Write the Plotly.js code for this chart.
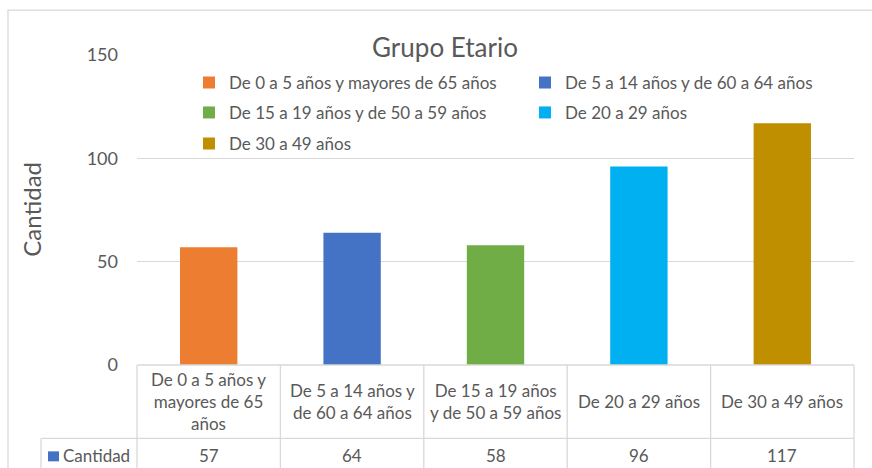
<!DOCTYPE html>
<html>
<head>
<meta charset="utf-8">
<script src="https://cdn.plot.ly/plotly-3.0.1.min.js"></script>
<style>html,body{margin:0;padding:0;background:#fff;}#chart{width:872px;height:468px;}</style>
</head>
<body>
<div id="chart"></div>
<script>
// ---- data ----
var categories = [
  "De 0 a 5 años y mayores de 65 años",
  "De 5 a 14 años y de 60 a 64 años",
  "De 15 a 19 años y de 50 a 59 años",
  "De 20 a 29 años",
  "De 30 a 49 años"
];
var tableLabels = [
  "De 0 a 5 años y<br>mayores de 65<br>años",
  "De 5 a 14 años y<br>de 60 a 64 años",
  "De 15 a 19 años<br>y de 50 a 59 años",
  "De 20 a 29 años",
  "De 30 a 49 años"
];
var values = [57, 64, 58, 96, 117];
var colors = ["#ED7D31", "#4472C4", "#70AD47", "#00B0F0", "#BF8F00"];
var seriesName = "Cantidad";
var yTicks = [0, 50, 100, 150];

// ---- layout helpers ----
var W = 872, H = 468;
var M = {l: 137, r: 18, t: 55, b: 102.5, autoexpand: false};
var PW = W - M.l - M.r, PH = H - M.t - M.b;
function px2x(px) { return (px - M.l) / PW; }
function py2y(py) { return (H - M.b - py) / PH; }
var textColor = "#595959", lineColor = "#D9D9D9";
var FONT = "Lato, 'Open Sans', sans-serif";

var legendIds = ["legend", "legend", "legend2", "legend2", "legend3"];
var traces = categories.map(function (c, i) {
  return {
    type: "bar",
    x: [i],
    y: [values[i]],
    name: c,
    width: 0.4,
    marker: {color: colors[i]},
    legend: legendIds[i],
    hoverinfo: "skip"
  };
});

var n = categories.length;
function catEdge(k) { return k / n; } // paper x of boundary k (range -0.5..n-0.5)

var shapes = [];
var rowLineY = py2y(439), bottomY = py2y(480);
var labelColX = px2x(41);
// outer chart border
shapes.push({type: "rect", xref: "paper", yref: "paper", x0: px2x(8), x1: px2x(900), y0: py2y(10), y1: py2y(500),
  line: {color: lineColor, width: 1.3}, fillcolor: "rgba(0,0,0,0)", layer: "below"});
// table top line (axis line)
shapes.push({type: "line", xref: "paper", yref: "paper", x0: 0, x1: 1, y0: 0, y1: 0, line: {color: lineColor, width: 1.3}});
// row separator
shapes.push({type: "line", xref: "paper", yref: "paper", x0: labelColX, x1: 1, y0: rowLineY, y1: rowLineY, line: {color: lineColor, width: 1.3}});
// vertical cell lines
for (var k = 0; k <= n; k++) {
  shapes.push({type: "line", xref: "paper", yref: "paper", x0: catEdge(k), x1: catEdge(k), y0: 0, y1: bottomY, line: {color: lineColor, width: 1.3}});
}
// label column left line
shapes.push({type: "line", xref: "paper", yref: "paper", x0: labelColX, x1: labelColX, y0: rowLineY, y1: bottomY, line: {color: lineColor, width: 1.3}});
// series key square in table
shapes.push({type: "rect", xref: "paper", yref: "paper", x0: px2x(48), x1: px2x(59), y0: py2y(462), y1: py2y(452),
  line: {width: 0}, fillcolor: "#4472C4"});

var annotations = [];
tableLabels.forEach(function (t, i) {
  annotations.push({xref: "x", yref: "paper", x: i, y: py2y(402), text: t, showarrow: false,
    xanchor: "center", yanchor: "middle", align: "center", font: {family: FONT, size: 17, color: textColor}});
  annotations.push({xref: "x", yref: "paper", x: i, y: py2y(456), text: String(values[i]), showarrow: false,
    xanchor: "center", yanchor: "middle", font: {family: FONT, size: 17, color: textColor}});
});
annotations.push({xref: "paper", yref: "paper", x: px2x(61), y: py2y(456), text: seriesName, showarrow: false,
  xanchor: "left", yanchor: "middle", font: {family: FONT, size: 17, color: textColor}});
// y axis title
annotations.push({xref: "paper", yref: "paper", x: px2x(32), y: py2y(210), text: seriesName, showarrow: false,
  textangle: -90, xanchor: "center", yanchor: "middle", font: {family: FONT, size: 24, color: textColor}});

function legendAt(py) {
  return {orientation: "h", x: px2x(189), xanchor: "left", y: py2y(py), yanchor: "middle",
    entrywidth: 291, entrywidthmode: "pixels", bgcolor: "rgba(0,0,0,0)",
    font: {family: FONT, size: 17, color: textColor}, traceorder: "normal"};
}

var layout = {
  width: W, height: H,
  margin: M,
  paper_bgcolor: "#fff", plot_bgcolor: "rgba(0,0,0,0)",
  showlegend: true,
  barmode: "overlay",
  title: {text: "Grupo Etario", xref: "container", x: 445 / W, xanchor: "center",
    yref: "container", y: 1 - 48 / H, yanchor: "middle",
    font: {family: FONT, size: 26, color: textColor}},
  xaxis: {range: [-0.5, n - 0.5], showticklabels: false, showgrid: false, zeroline: false, showline: false, ticks: "", fixedrange: true},
  yaxis: {range: [0, 150], tickvals: yTicks, showgrid: true, gridcolor: lineColor, gridwidth: 1.3, zeroline: false, showline: false,
    ticks: "", ticklabelstandoff: 18, tickfont: {family: FONT, size: 18, color: textColor}, fixedrange: true},
  legend: legendAt(83),
  legend2: legendAt(113),
  legend3: legendAt(144),
  shapes: shapes,
  annotations: annotations
};

Plotly.newPlot("chart", traces, layout, {displayModeBar: false, staticPlot: true});
</script>
</body>
</html>
